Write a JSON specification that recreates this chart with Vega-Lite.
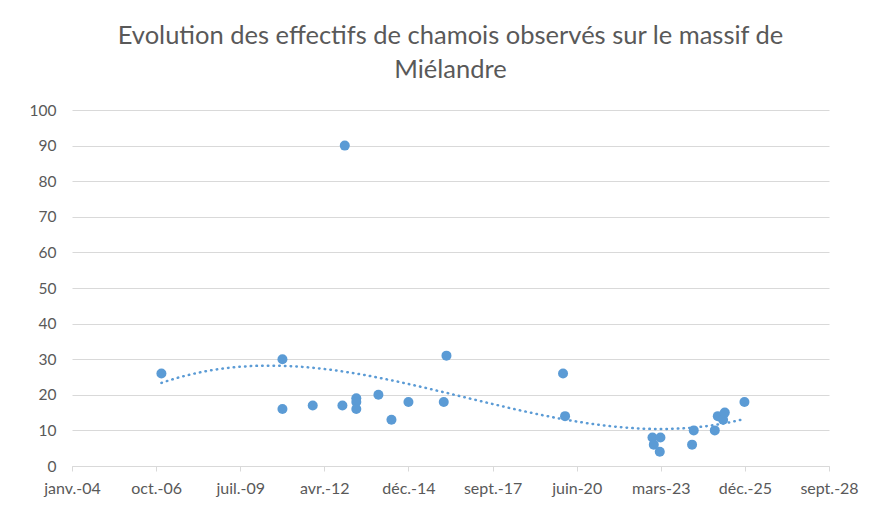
{
  "$schema": "https://vega.github.io/schema/vega-lite/v6.json",
  "autosize": {"type": "none"},
  "width": 757,
  "height": 356,
  "padding": {"left": 72, "top": 110, "right": 53, "bottom": 43},
  "background": "white",
  "config": {
    "font": "Lato",
    "view": {"stroke": null},
    "axis": {"labelFont": "Lato", "labelColor": "#595959", "labelFontSize": 15.5}
  },
  "title": {
    "text": ["Evolution des effectifs de chamois observés sur le massif de", "Miélandre"],
    "font": "Lato",
    "fontSize": 25.5,
    "fontWeight": "normal",
    "color": "#595959",
    "anchor": "middle",
    "frame": "group",
    "lineHeight": 34,
    "offset": 20
  },
  "data": {
    "values": [
      {"date": "2006-12-12", "count": 26},
      {"date": "2010-11-20", "count": 30},
      {"date": "2010-11-20", "count": 16},
      {"date": "2011-11-15", "count": 17},
      {"date": "2012-11-02", "count": 17},
      {"date": "2012-11-30", "count": 90},
      {"date": "2013-04-16", "count": 19},
      {"date": "2013-04-16", "count": 18},
      {"date": "2013-04-16", "count": 16},
      {"date": "2014-01-04", "count": 20},
      {"date": "2014-06-08", "count": 13},
      {"date": "2014-12-27", "count": 18},
      {"date": "2016-02-20", "count": 18},
      {"date": "2016-03-23", "count": 31},
      {"date": "2020-01-08", "count": 26},
      {"date": "2020-02-01", "count": 14},
      {"date": "2022-12-06", "count": 8},
      {"date": "2022-12-22", "count": 6},
      {"date": "2023-03-03", "count": 4},
      {"date": "2023-03-11", "count": 8},
      {"date": "2024-03-21", "count": 6},
      {"date": "2024-04-10", "count": 10},
      {"date": "2024-12-16", "count": 10},
      {"date": "2025-01-21", "count": 14},
      {"date": "2025-03-25", "count": 13},
      {"date": "2025-04-14", "count": 15},
      {"date": "2025-12-04", "count": 18}
    ],
    "format": {"parse": {"date": "date"}}
  },
  "encoding": {
    "x": {
      "field": "date",
      "type": "temporal",
      "scale": {
        "type": "utc",
        "domain": [
          {"year": 2004, "month": 1, "date": 14, "utc": true},
          {"year": 2028, "month": 9, "date": 4, "utc": true}
        ],
        "nice": false
      },
      "axis": {
        "title": null,
        "grid": false,
        "values": [
          {"year": 2004, "month": 1, "date": 14, "utc": true},
          {"year": 2006, "month": 10, "date": 10, "utc": true},
          {"year": 2009, "month": 7, "date": 6, "utc": true},
          {"year": 2012, "month": 4, "date": 1, "utc": true},
          {"year": 2014, "month": 12, "date": 27, "utc": true},
          {"year": 2017, "month": 9, "date": 22, "utc": true},
          {"year": 2020, "month": 6, "date": 18, "utc": true},
          {"year": 2023, "month": 3, "date": 15, "utc": true},
          {"year": 2025, "month": 12, "date": 9, "utc": true},
          {"year": 2028, "month": 9, "date": 4, "utc": true}
        ],
        "labelExpr": "['janv.','févr.','mars','avr.','mai','juin','juil.','août','sept.','oct.','nov.','déc.'][utcmonth(datum.value)] + '-' + utcFormat(datum.value, '%y')",
        "domainColor": "#D9D9D9",
        "tickColor": "#D9D9D9",
        "tickSize": 5,
        "labelPadding": 9,
        "labelFontSize": 16,
        "labelFlush": false,
        "labelBound": false,
        "labelOverlap": false
      }
    },
    "y": {
      "field": "count",
      "type": "quantitative",
      "scale": {"domain": [0, 100], "nice": false},
      "axis": {
        "title": null,
        "values": [0, 10, 20, 30, 40, 50, 60, 70, 80, 90, 100],
        "grid": true,
        "gridColor": "#D9D9D9",
        "domain": false,
        "ticks": false,
        "labelPadding": 16
      }
    }
  },
  "layer": [
    {
      "transform": [
        {"regression": "count", "on": "date", "method": "poly", "order": 3}
      ],
      "mark": {
        "type": "line",
        "color": "#5B9BD5",
        "strokeWidth": 2.5,
        "strokeDash": [0.5, 5.2],
        "strokeCap": "round"
      }
    },
    {
      "mark": {"type": "circle", "color": "#5B9BD5", "opacity": 1, "size": 100}
    }
  ]
}
